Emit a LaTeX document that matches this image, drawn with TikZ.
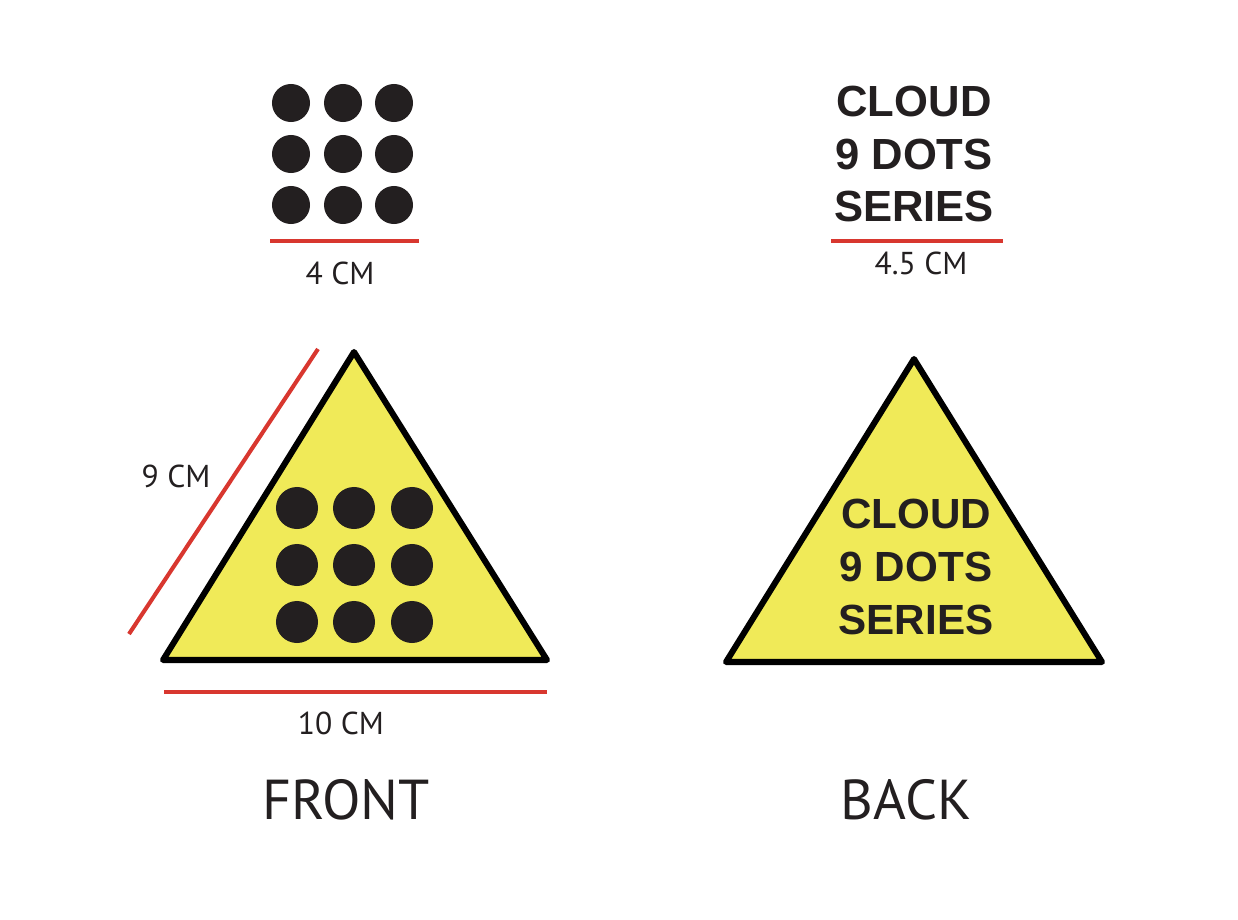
\documentclass[tikz,border=0pt]{standalone}
\usepackage{fontspec}
\setmainfont{PT Sans}
\newfontfamily\boldsans{Liberation Sans}[BoldFont={Liberation Sans Bold}]
\usetikzlibrary{positioning}
\definecolor{inkdark}{HTML}{231F20}
\definecolor{rulered}{HTML}{D8372F}
\definecolor{signyellow}{HTML}{F0EA58}
\tikzset{
    x=0.025cm, y=-0.025cm, % one unit is one pixel of the layout
    dot/.style={circle, fill=inkdark, inner sep=0pt}, % black dots
    smalldot/.style={dot, minimum size=0.95cm},
    bigdot/.style={dot, minimum size=1.05cm},
    sign/.style={draw=black, fill=signyellow, line width=4.3pt, line join=round}, % the yellow triangles
    measure/.style={draw=rulered, line width=2.9pt}, % red size lines
    sizelabel/.style={text=inkdark, font=\fontsize{22.5}{27}\selectfont},
    sidelabel/.style={text=inkdark, font=\fontsize{40}{48}\selectfont},
    series/.style={text=inkdark, align=center, font=\boldsans\bfseries\fontsize{31}{37}\selectfont},
}
\begin{document}
\begin{tikzpicture}
    \useasboundingbox (0,0) rectangle (1238,920);
    % top left: the dots alone
    \foreach \i/\x in {1/291, 2/343, 3/394}
        \foreach \j/\y in {1/103, 2/154, 3/205}
            \node[smalldot] (sd\i\j) at (\x,\y) {};
    \coordinate (r1a) at (270,241);
    \coordinate (r1b) at (419,241);
    \draw[measure] (r1a) -- (r1b);
    \node[sizelabel] (w4) at (340,273) {4 CM};
    % top right: the text alone
    \node[series] (txt) at (914,154) {CLOUD\\9 DOTS\\SERIES};
    \coordinate (r2a) at (831,241);
    \coordinate (r2b) at (1003,241);
    \draw[measure] (r2a) -- (r2b);
    \node[sizelabel] (w45) at (921,263) {4.5 CM};
    % front triangle
    \coordinate (fa) at (354,352);
    \coordinate (fl) at (163,660);
    \coordinate (fr) at (547,660);
    \path[sign] (fa) -- (fl) -- (fr) -- cycle;
    \foreach \i/\x in {1/297, 2/354, 3/412}
        \foreach \j/\y in {1/508, 2/565, 3/622}
            \node[bigdot] (bd\i\j) at (\x,\y) {};
    \coordinate (r3a) at (129,634);
    \coordinate (r3b) at (318,349);
    \draw[measure] (r3a) -- (r3b);
    \node[sizelabel] (h9) at (176,476) {9 CM};
    \coordinate (r4a) at (164,692);
    \coordinate (r4b) at (547,692);
    \draw[measure] (r4a) -- (r4b);
    \node[sizelabel] (w10) at (341,723) {10 CM};
    \node[sidelabel] (front) at (346,800) {FRONT};
    % back triangle
    \coordinate (ba) at (914,359);
    \coordinate (bl) at (726,662);
    \coordinate (br) at (1102,662);
    \path[sign] (ba) -- (bl) -- (br) -- cycle;
    \node[series, font=\boldsans\bfseries\fontsize{30}{37.5}\selectfont] (backtxt) at (916,567) {CLOUD\\9 DOTS\\SERIES};
    \node[sidelabel] (back) at (906,800) {BACK};
\end{tikzpicture}
\end{document}
